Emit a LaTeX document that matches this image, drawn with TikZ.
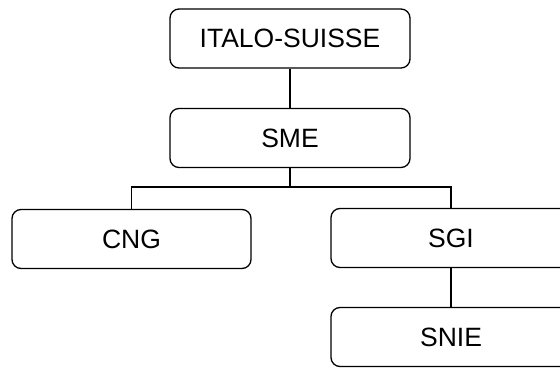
\documentclass[tikz,border=0pt]{standalone}
\usepackage{fontspec}
\setmainfont{Liberation Sans}
\begin{document}
\begin{tikzpicture}[x=1pt,y=-1pt,
  orgbox/.style={draw=black,line width=1.3pt,rounded corners=9pt,fill=white,
    minimum width=240pt,minimum height=59pt,inner sep=0pt,
    font=\fontsize{26.5}{30}\selectfont},
  link/.style={draw=black,line width=1.3pt}]
\useasboundingbox (0,0) rectangle (560,369);
\clip (0,0) rectangle (560,369);
\node[orgbox] (italo) at (290,38.5) {ITALO-SUISSE};
\node[orgbox] (sme) at (290,138) {SME};
\node[orgbox,minimum width=239pt] (cng) at (131.5,239) {CNG};
\node[orgbox] (sgi) at (451,238) {SGI};
\node[orgbox] (snie) at (451,337) {SNIE};
\coordinate (bus) at (290,187);
\draw[link] (italo.south) -- (sme.north);
\draw[link] (sme.south) -- (bus);
\draw[link] (bus) -| (cng.north);
\draw[link] (bus) -| (sgi.north);
\draw[link] (sgi.south) -- (snie.north);
\end{tikzpicture}
\end{document}
